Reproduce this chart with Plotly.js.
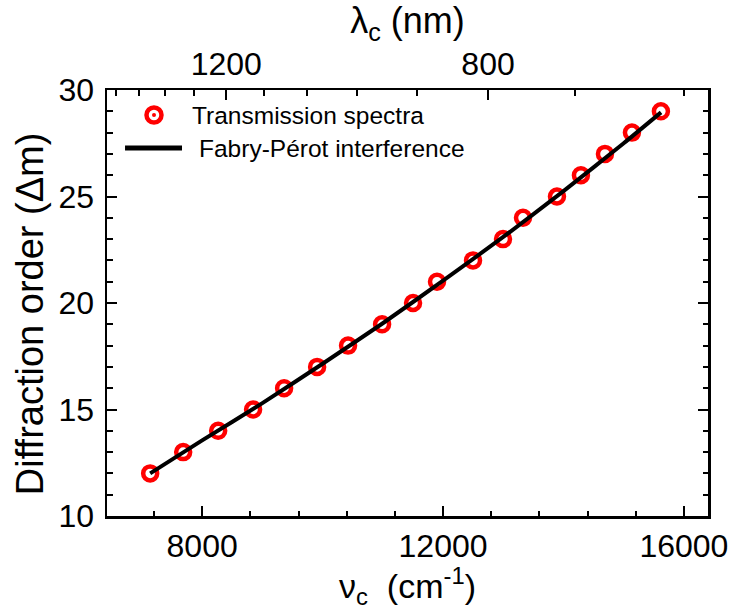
<!DOCTYPE html>
<html>
<head>
<meta charset="utf-8">
<script src="https://cdn.plot.ly/plotly-3.0.1.min.js"></script>
<style>
  html, body { margin: 0; padding: 0; background: #fff; }
  #chart { width: 732px; height: 610px; }
</style>
</head>
<body>
<div id="chart"></div>
<script>
// Measured diffraction orders versus centre wavenumber (cm^-1)
const nuMeasured = [7137, 7685, 8266, 8846, 9361, 9909, 10423, 10988, 11502,
                    11900, 12498, 12996, 13328, 13892, 14290, 14689, 15137, 15618];
const orderMeasured = [12, 13, 14, 15, 16, 17, 18, 19, 20,
                       21, 22, 23, 24, 25, 26, 27, 28, 29];

// Fabry-Pérot model curve
const nuModel = [7137, 8000, 9000, 10000, 11000, 12000, 13000, 14000, 15000, 15620];
const orderModel = [12.0, 13.55, 15.3, 17.15, 19.05, 21.05, 23.1, 25.25, 27.5, 28.95];

// Bottom wavenumber axis ticks
const nuMajor = [8000, 12000, 16000];
const nuMinor = [7200, 8800, 9600, 10400, 11200, 12800, 13600, 14400, 15200];

// Top wavelength axis (nm): labelled and minor ticks
const lambdaMajor = [1200, 800];
const lambdaMinor = [1520, 1440, 1360, 1280, 1120, 1040, 960, 880, 720, 640];
const toWavenumber = l => 1e7 / l;

// Left axis ticks
const orderMajor = [10, 15, 20, 25, 30];

const FONT = 'Liberation Sans, Arial, sans-serif';
const RED = '#ff0000';

const traces = [
  {
    x: nuMeasured, y: orderMeasured,
    type: 'scatter', mode: 'markers',
    name: 'Transmission spectra',
    marker: { symbol: 'circle-open', size: 14, color: RED, line: { color: RED, width: 4.5 } },
    showlegend: false
  },
  {
    x: nuModel, y: orderModel,
    type: 'scatter', mode: 'lines',
    name: 'Fabry-Pérot interference',
    line: { color: '#000', width: 4, shape: 'spline', smoothing: 0.6 },
    showlegend: false
  },
  {
    // carries the top axis
    x: [], y: [], xaxis: 'x2', yaxis: 'y',
    type: 'scatter', mode: 'markers', showlegend: false, hoverinfo: 'skip'
  }
];

const minorTicks = { ticks: 'inside', ticklen: 5.5, tickwidth: 2, tickcolor: '#000' };

const axisCommon = {
  showgrid: false, zeroline: false,
  showline: true, linecolor: '#000', linewidth: 2.5,
  ticks: 'inside', ticklen: 10, tickwidth: 2, tickcolor: '#000',
  tickfont: { family: FONT, size: 32, color: '#000' }
};

const layout = {
  width: 732, height: 610,
  margin: { l: 107, r: 24, t: 90, b: 94 },
  paper_bgcolor: '#fff', plot_bgcolor: '#fff',
  showlegend: false,
  xaxis: Object.assign({}, axisCommon, {
    range: [6420, 16400],
    tickmode: 'array', tickvals: nuMajor, ticktext: nuMajor.map(String),
    minor: Object.assign({ tickvals: nuMinor }, minorTicks),
    mirror: false,
    ticklabelstandoff: 0,
    title: { text: 'ν<sub>c</sub>  (cm<sup>-1</sup>)', font: { family: FONT, size: 34, color: '#000' }, standoff: 2 }
  }),
  xaxis2: Object.assign({}, axisCommon, {
    overlaying: 'x', side: 'top', anchor: 'y',
    range: [6436, 16000],
    tickmode: 'array',
    tickvals: lambdaMajor.map(toWavenumber),
    ticktext: lambdaMajor.map(String),
    minor: Object.assign({ tickvals: lambdaMinor.map(toWavenumber) }, minorTicks),
    title: { text: 'λ<sub>c</sub> (nm)', font: { family: FONT, size: 36, color: '#000' }, standoff: 6 }
  }),
  yaxis: Object.assign({}, axisCommon, {
    range: [10, 30],
    tickmode: 'array', tickvals: orderMajor, ticktext: orderMajor.map(String),
    minor: Object.assign({ dtick: 1 }, minorTicks),
    mirror: 'ticks',
    ticklabelstandoff: 4
  }),
  shapes: [
    // legend key: ring marker
    { type: 'circle', xref: 'paper', yref: 'paper', xsizemode: 'pixel', ysizemode: 'pixel',
      xanchor: 0.0782, yanchor: 0.9413, x0: -7.5, x1: 7.5, y0: -7.5, y1: 7.5,
      line: { color: RED, width: 4.5 }, fillcolor: 'rgba(0,0,0,0)' },
    { type: 'circle', xref: 'paper', yref: 'paper', xsizemode: 'pixel', ysizemode: 'pixel',
      xanchor: 0.0782, yanchor: 0.9413, x0: -2, x1: 2, y0: -2, y1: 2,
      line: { color: RED, width: 0 }, fillcolor: RED },
    // legend key: line
    { type: 'line', xref: 'paper', yref: 'paper', x0: 0.030, x1: 0.1248, y0: 0.8638, y1: 0.8638,
      line: { color: '#000', width: 5 } }
  ],
  annotations: [
    // left axis title
    { text: 'Diffraction order (Δm)', xref: 'paper', yref: 'paper', x: -0.128, y: 0.474,
      xanchor: 'center', yanchor: 'middle', textangle: -90, showarrow: false,
      font: { family: FONT, size: 38, color: '#000' } },
    { text: 'Transmission spectra', xref: 'paper', yref: 'paper', x: 0.138, y: 0.9413,
      xanchor: 'left', yanchor: 'middle', showarrow: false,
      font: { family: FONT, size: 24.5, color: '#000' } },
    { text: 'Fabry-Pérot interference', xref: 'paper', yref: 'paper', x: 0.1498, y: 0.8638,
      xanchor: 'left', yanchor: 'middle', showarrow: false,
      font: { family: FONT, size: 24.5, color: '#000' } }
  ]
};

Plotly.newPlot('chart', traces, layout, { staticPlot: true, displayModeBar: false });
</script>
</body>
</html>
